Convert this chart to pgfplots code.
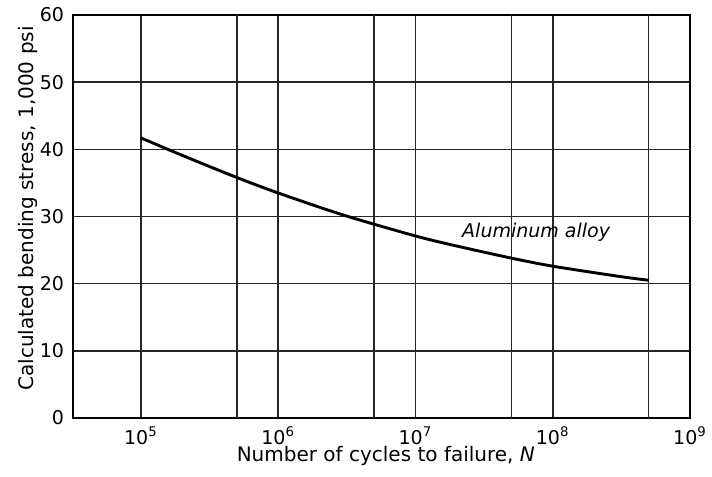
\documentclass[border=0pt]{standalone}
\usepackage{fontspec}
\setmainfont{DejaVu Sans}
\usepackage{pgfplots}
\pgfplotsset{compat=1.18}
\begin{document}
\begin{tikzpicture}
\begin{axis}[
  name=ax,
  scale only axis,
  width=308.5pt, height=201.5pt,
  xmode=log, log basis x=10,
  xmin=3.2e4, xmax=1e9,
  ymin=0, ymax=60,
  xtick={1e5,1e6,1e7,1e8,1e9},
  xticklabels={10\textsuperscript{5},10\textsuperscript{6},10\textsuperscript{7},10\textsuperscript{8},10\textsuperscript{9}},
  extra x ticks={5e5,5e6,5e7,5e8},
  extra x tick labels={},
  extra x tick style={grid=major, major tick length=0pt},
  ytick={0,10,20,30,40,50,60},
  minor tick num=0,
  grid=major,
  major grid style={black!85, line width=0.8pt},
  axis line style={black, line width=1pt},
  major tick length=0pt,
  tick label style={font=\fontsize{9.5}{10}\selectfont},
  /pgf/number format/assume math mode=true,
  xticklabel style={yshift=-1pt},
  yticklabel style={xshift=-1pt},
  xlabel={Number of cycles to failure, \textit{N}},
  ylabel={Calculated bending stress, 1,000 psi},
  label style={font=\fontsize{10}{11}\selectfont},
  xlabel style={at={(axis description cs:0.507,-0.109)}, anchor=base},
  ylabel style={at={(axis description cs:-0.073,0.52)}, anchor=center},
  clip=false,
]
\addplot[black, line width=1.45pt, smooth] coordinates {
  (1e5,41.7) (2e5,39.1) (5e5,35.8) (1e6,33.5) (3e6,30.2)
  (1e7,27.1) (2e7,25.6) (5e7,23.8) (1e8,22.6) (3e8,21.1) (5e8,20.5)
};
\node[font=\itshape\fontsize{9.5}{10}\selectfont, anchor=center] at (axis cs:7.57e7,27.7) {Aluminum alloy};
\coordinate (bl) at (rel axis cs:-0.1183,-0.1464);
\coordinate (tr) at (rel axis cs:1.0357,1.0372);
\end{axis}
\pgfresetboundingbox
\path (bl) rectangle (tr);
\end{tikzpicture}
\end{document}
